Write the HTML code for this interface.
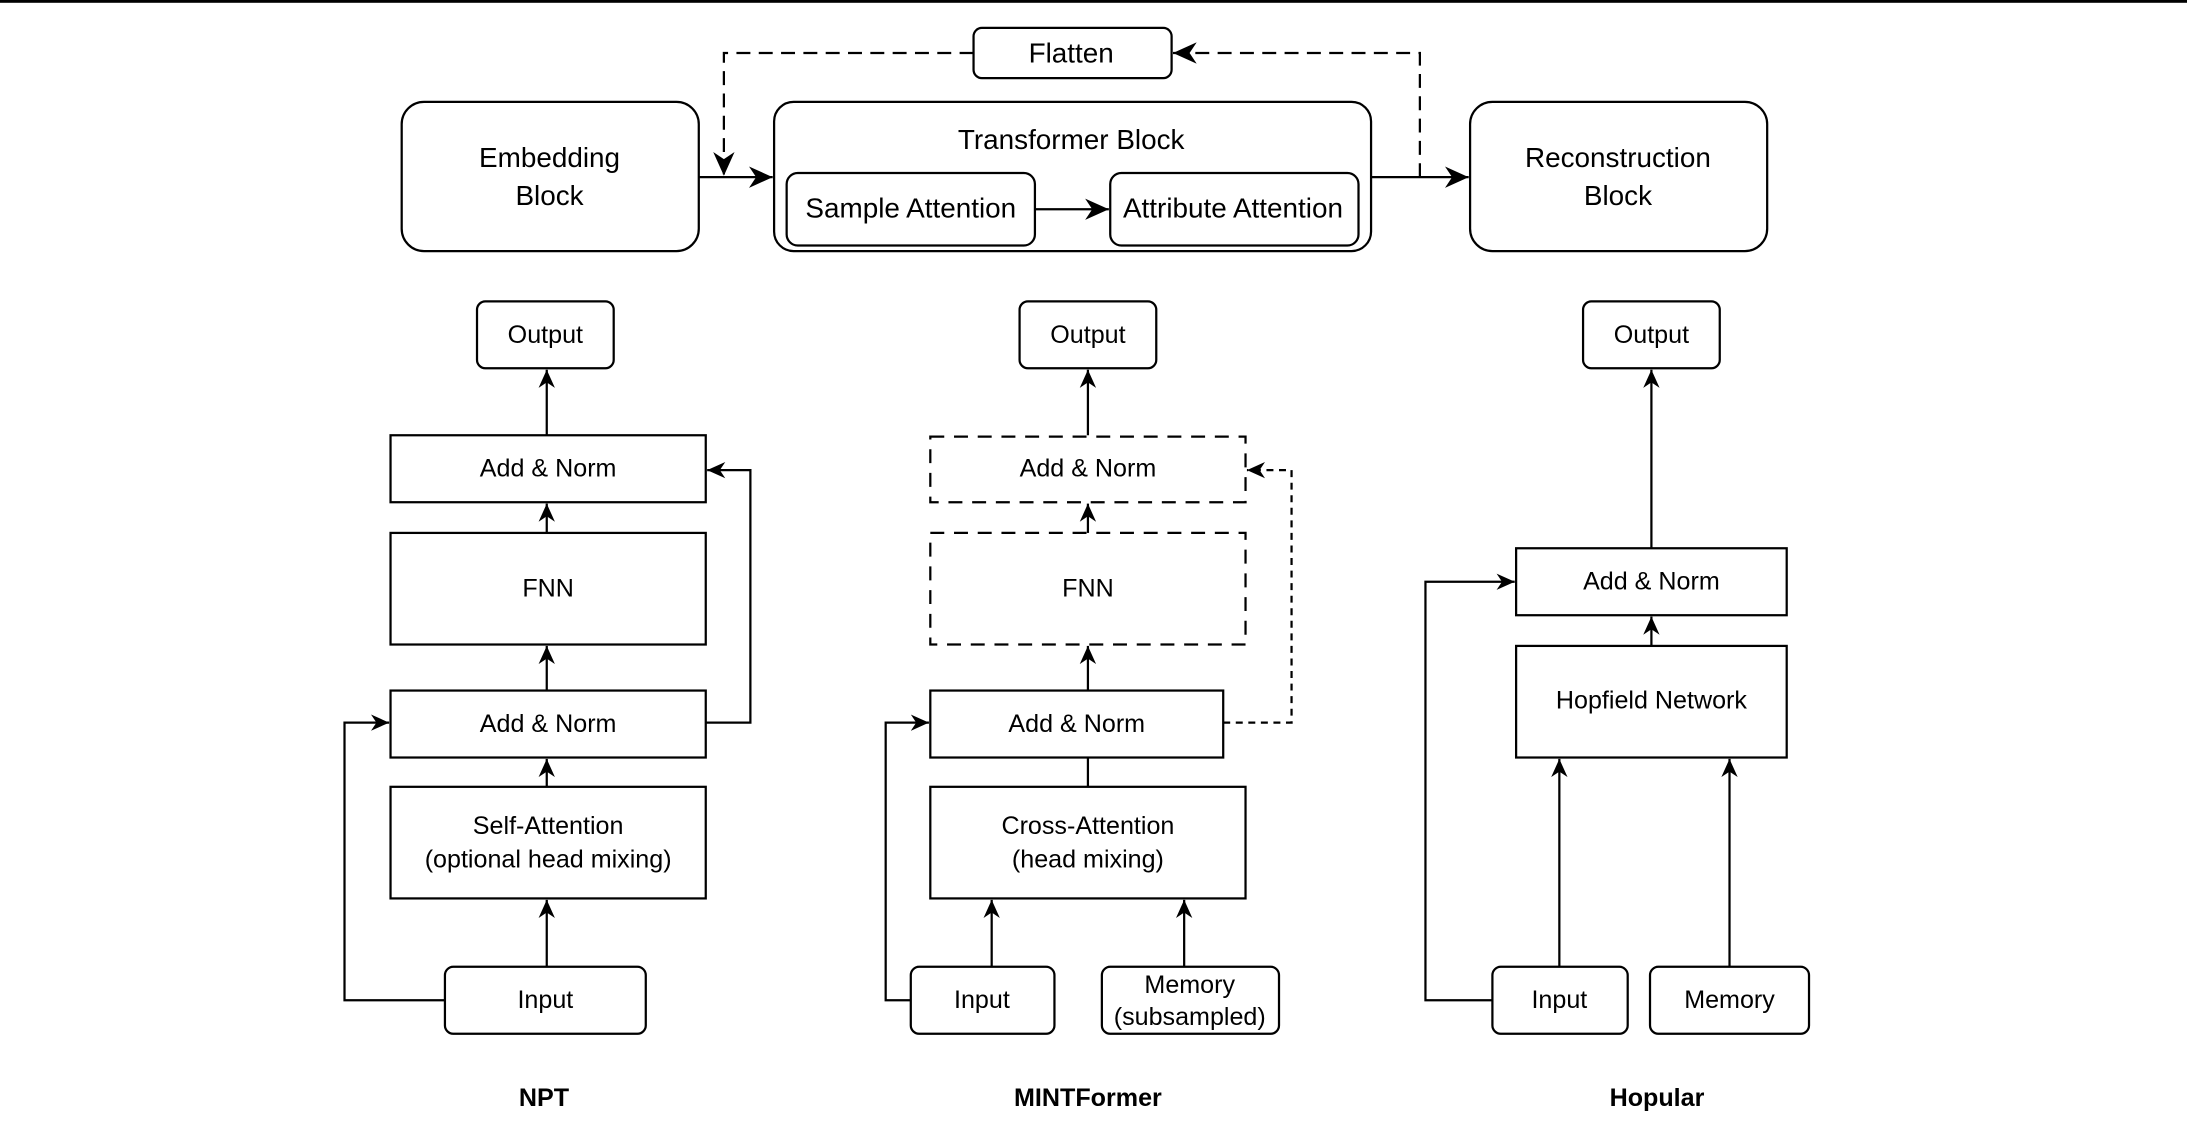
<!DOCTYPE html>
<html><head><meta charset="utf-8"><style>
html,body{margin:0;padding:0;background:#fff;}
svg{display:block;}
text{font-family:"Liberation Sans",Arial,sans-serif;fill:#000;text-anchor:middle;dominant-baseline:central;}
</style></head><body>
<svg width="2187" height="1130" viewBox="0 0 1568 810" preserveAspectRatio="none" xmlns="http://www.w3.org/2000/svg">
<defs>
<marker id="a" viewBox="0 0 10 10" refX="10" refY="5" markerWidth="13" markerHeight="13" markerUnits="userSpaceOnUse" orient="auto">
<path d="M0,0.5 L10,5 L0,9.5 L3,5 z" fill="#000"/></marker>
<marker id="b" viewBox="0 0 10 10" refX="10" refY="5" markerWidth="17" markerHeight="17" markerUnits="userSpaceOnUse" orient="auto">
<path d="M0,0.5 L10,5 L0,9.5 L3,5 z" fill="#000"/></marker>
</defs>
<rect x="0" y="0" width="1568" height="2" fill="#000"/>
<g fill="none" stroke="#000" stroke-width="1.6">
<rect x="698" y="20" width="142" height="36" rx="6"/>
<rect x="288" y="73" width="213" height="107" rx="16"/>
<rect x="555" y="73" width="428" height="107" rx="14"/>
<rect x="564" y="124" width="178" height="52" rx="8"/>
<rect x="796" y="124" width="178" height="52" rx="8"/>
<rect x="1054" y="73" width="213" height="107" rx="16"/>
<path d="M742,150 H795" marker-end="url(#b)"/>
<path d="M501,127 H554" marker-end="url(#b)"/>
<path d="M983,127 H1053" marker-end="url(#b)"/>
<path d="M698,38 H519 V126" stroke-dasharray="10,6" marker-end="url(#b)"/>
<path d="M1018,127 V38 H841" stroke-dasharray="10,6" marker-end="url(#b)"/>
<rect x="342" y="216" width="98" height="48" rx="6"/>
<rect x="280" y="312" width="226" height="48"/>
<rect x="280" y="382" width="226" height="80"/>
<rect x="280" y="495" width="226" height="48"/>
<rect x="280" y="564" width="226" height="80"/>
<rect x="319" y="693" width="144" height="48" rx="6"/>
<path d="M392,312 V265" marker-end="url(#a)"/>
<path d="M392,382 V361" marker-end="url(#a)"/>
<path d="M392,495 V463" marker-end="url(#a)"/>
<path d="M392,564 V544" marker-end="url(#a)"/>
<path d="M392,693 V645" marker-end="url(#a)"/>
<path d="M319,717 H247 V518 H279" marker-end="url(#a)"/>
<path d="M506,518 H538 V337 H507" marker-end="url(#a)"/>
<rect x="731" y="216" width="98" height="48" rx="6"/>
<rect x="667" y="313" width="226" height="47" stroke-dasharray="10,7"/>
<rect x="667" y="382" width="226" height="80" stroke-dasharray="10,7"/>
<rect x="667" y="495" width="210" height="48"/>
<rect x="667" y="564" width="226" height="80"/>
<rect x="653" y="693" width="103" height="48" rx="6"/>
<rect x="790" y="693" width="127" height="48" rx="6"/>
<path d="M780,312 V265" marker-end="url(#a)"/>
<path d="M780,382 V361" marker-end="url(#a)"/>
<path d="M780,495 V463" marker-end="url(#a)"/>
<path d="M780,543 V564"/>
<path d="M711,693 V645" marker-end="url(#a)"/>
<path d="M849,693 V645" marker-end="url(#a)"/>
<path d="M653,717 H635 V518 H666" marker-end="url(#a)"/>
<path d="M877,518 H926 V337 H894" stroke-dasharray="5,4" marker-end="url(#a)"/>
<rect x="1135" y="216" width="98" height="48" rx="6"/>
<rect x="1087" y="393" width="194" height="48"/>
<rect x="1087" y="463" width="194" height="80"/>
<rect x="1070" y="693" width="97" height="48" rx="6"/>
<rect x="1183" y="693" width="114" height="48" rx="6"/>
<path d="M1184,393 V265" marker-end="url(#a)"/>
<path d="M1184,463 V442" marker-end="url(#a)"/>
<path d="M1118,693 V544" marker-end="url(#a)"/>
<path d="M1240,693 V544" marker-end="url(#a)"/>
<path d="M1070,717 H1022 V417 H1086" marker-end="url(#a)"/>
</g>
<g font-size="20">
<text x="768" y="38">Flatten</text>
<text x="394" y="113">Embedding</text>
<text x="394" y="140">Block</text>
<text x="768" y="100">Transformer Block</text>
<text x="653" y="149">Sample Attention</text>
<text x="884" y="149">Attribute Attention</text>
<text x="1160" y="113">Reconstruction</text>
<text x="1160" y="140">Block</text>
</g>
<g font-size="18">
<text x="391" y="240">Output</text>
<text x="393" y="336">Add &amp; Norm</text>
<text x="393" y="422">FNN</text>
<text x="393" y="519">Add &amp; Norm</text>
<text x="393" y="592">Self-Attention</text>
<text x="393" y="616">(optional head mixing)</text>
<text x="391" y="717">Input</text>
<text x="780" y="240">Output</text>
<text x="780" y="336">Add &amp; Norm</text>
<text x="780" y="422">FNN</text>
<text x="772" y="519">Add &amp; Norm</text>
<text x="780" y="592">Cross-Attention</text>
<text x="780" y="616">(head mixing)</text>
<text x="704" y="717">Input</text>
<text x="853" y="706">Memory</text>
<text x="853" y="729">(subsampled)</text>
<text x="1184" y="240">Output</text>
<text x="1184" y="417">Add &amp; Norm</text>
<text x="1184" y="502">Hopfield Network</text>
<text x="1118" y="717">Input</text>
<text x="1240" y="717">Memory</text>
</g>
<g font-size="18" font-weight="bold">
<text x="390" y="787">NPT</text>
<text x="780" y="787">MINTFormer</text>
<text x="1188" y="787">Hopular</text>
</g>
</svg>
</body></html>
